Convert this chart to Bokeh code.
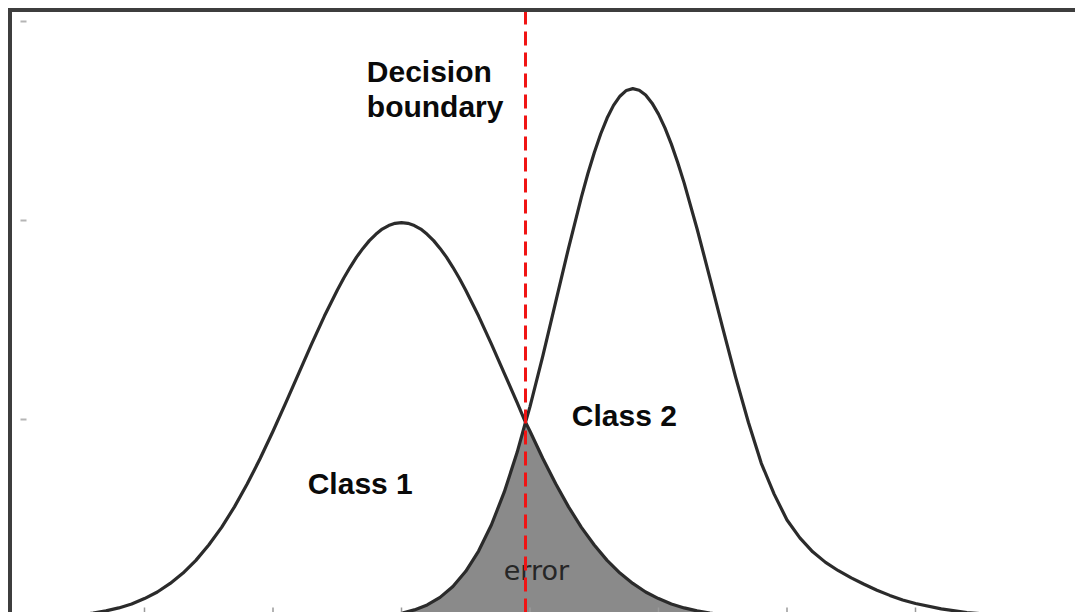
import numpy as np
import pandas as pd
from bokeh.plotting import figure
from bokeh.models import Range1d, ColumnDataSource
from bokeh.core.properties import value
from bokeh.embed import file_html
from bokeh.resources import INLINE

# ---- data -------------------------------------------------------------
# Class 1 density (sampled along x)
class1_x = [-3.2, -3.0, -2.8, -2.6, -2.5, -2.4, -2.3, -2.2, -2.1, -2.0,
            -1.9, -1.8, -1.7, -1.6, -1.5, -1.4, -1.3, -1.2, -1.1, -1.0,
            -0.9, -0.8, -0.7, -0.6, -0.5, -0.45, -0.4, -0.35, -0.3, -0.25,
            -0.2, -0.15, -0.1, -0.05, 0.0, 0.05, 0.1, 0.15, 0.2, 0.25,
            0.3, 0.35, 0.4, 0.45, 0.5, 0.6, 0.7, 0.8, 0.9, 0.965, 1.0,
            1.1, 1.2, 1.3, 1.4, 1.5, 1.6, 1.7, 1.8, 1.9, 2.0,
            2.1, 2.2, 2.3, 2.4, 2.5, 2.6, 2.8, 3.0, 3.2]
class1_y = [0.0001, 0.0002, 0.0006, 0.0013, 0.0018, 0.0027, 0.0038, 0.0053, 0.0073, 0.0100,
            0.0133, 0.0176, 0.0228, 0.0292, 0.0369, 0.0458, 0.0561, 0.0677, 0.0804, 0.0941,
            0.1085, 0.1232, 0.1379, 0.1520, 0.1650, 0.1710, 0.1765, 0.1816, 0.1860, 0.1899,
            0.1931, 0.1957, 0.1975, 0.1986, 0.1990, 0.1986, 0.1975, 0.1957, 0.1931, 0.1899,
            0.1860, 0.1816, 0.1765, 0.1710, 0.1650, 0.1520, 0.1379, 0.1232, 0.1085, 0.0986, 0.0941,
            0.0804, 0.0677, 0.0561, 0.0458, 0.0369, 0.0292, 0.0228, 0.0176, 0.0133, 0.0100,
            0.0073, 0.0053, 0.0038, 0.0027, 0.0018, 0.0013, 0.0006, 0.0002, 0.0001]

# Class 2 density (sampled along x)
class2_x = [-0.4, -0.2, 0.0, 0.1, 0.2, 0.3, 0.4, 0.5, 0.6, 0.7,
            0.8, 0.9, 0.965, 1.0, 1.1, 1.2, 1.3, 1.4, 1.45, 1.5,
            1.55, 1.6, 1.65, 1.7, 1.75, 1.8, 1.85, 1.9, 1.95, 2.0,
            2.05, 2.1, 2.15, 2.2, 2.3, 2.4, 2.5, 2.6,
            2.7, 2.8, 2.9, 3.0, 3.1, 3.2, 3.3, 3.4, 3.5, 3.6,
            3.7, 3.8, 3.9, 4.0, 4.2, 4.4, 4.6, 4.8, 5.0, 5.2, 5.4]
class2_y = [0.0003, 0.0009, 0.0026, 0.0043, 0.0068, 0.0106, 0.0161, 0.0237, 0.0339, 0.0471,
            0.0636, 0.0835, 0.0986, 0.1065, 0.1320, 0.1591, 0.1862, 0.2118, 0.2235, 0.2341,
            0.2435, 0.2515, 0.2579, 0.2625, 0.2654, 0.2663, 0.2655, 0.2631, 0.2590, 0.2535,
            0.2466, 0.2384, 0.2291, 0.2188, 0.1959, 0.1711, 0.1459, 0.1213,
            0.0985, 0.0780, 0.0625, 0.0495, 0.0405, 0.0335, 0.0282, 0.0240, 0.0204, 0.0172,
            0.0142, 0.0116, 0.0093, 0.0075, 0.0048, 0.0030, 0.0019, 0.0012, 0.0008, 0.0005, 0.0003]

decision_boundary = 0.965

x_ticks = [-2, -1, 0, 1, 2, 3, 4]
y_ticks = [0.1, 0.2, 0.3]

# ---- figure -----------------------------------------------------------
W, H = 1075, 612
x_start, x_end = -3.1206, 5.2451
y_start, y_end = 0.003, 0.3106

p = figure(width=W, height=H, output_backend="svg", toolbar_location=None,
           x_range=Range1d(x_start, x_end), y_range=Range1d(y_start, y_end),
           x_axis_location=None, y_axis_location=None, min_border=0)
p.grid.visible = False
p.outline_line_color = None
p.background_fill_color = "white"
p.border_fill_color = "white"

# pixel -> data helpers for frame decorations
sx = (x_end - x_start) / W
sy = (y_end - y_start) / H

c1 = ColumnDataSource(dict(x=class1_x, y=class1_y))
c2 = ColumnDataSource(dict(x=class2_x, y=class2_y))

# error region: class 2 mass left of the boundary, class 1 mass right of it
d1 = pd.DataFrame({"x": class1_x, "c1": class1_y})
d2 = pd.DataFrame({"x": class2_x, "c2": class2_y})
err = d1.merge(d2, on="x").sort_values("x")
err["y"] = np.where(err["x"] < decision_boundary, err["c2"], err["c1"])
err["base"] = 0.0
p.varea(x="x", y1="base", y2="y", source=ColumnDataSource(err),
        fill_color="#8a8a8a", fill_alpha=1.0)

curve_color = "#2b2b2b"
p.line("x", "y", source=c1, line_color=curve_color, line_width=3.2, line_join="round")
p.line("x", "y", source=c2, line_color=curve_color, line_width=3.2, line_join="round")

p.text(x=[0.795], y=[0.0241], text=["error"], text_font=value("DejaVu Sans"),
       text_font_size="27px", text_color="#262626", text_baseline="alphabetic")

# decision boundary
p.line(x=[decision_boundary, decision_boundary], y=[y_start, y_end - 11 * sy],
       line_color="#f01414", line_width=3, line_dash="14 7")

labels = ColumnDataSource(dict(
    x=[-0.27, -0.27, -0.73, 1.325],
    y=[0.2748, 0.2572, 0.0680, 0.1020],
    text=["Decision", "boundary", "Class 1", "Class 2"],
))
p.text("x", "y", text="text", source=labels, text_font=value("Liberation Sans"),
       text_font_style="bold", text_font_size="30px", text_color="#0a0a0a",
       text_baseline="alphabetic")

# small tick marks
p.scatter(x=x_ticks, y=[y_start] * len(x_ticks), marker="dash", angle=np.pi / 2,
          size=10, line_color="#9a9a9a", line_width=1.5)
p.scatter(x=[x_start + 23 * sx] * len(y_ticks), y=y_ticks, marker="dash",
          size=6, line_color="#b5b5b5", line_width=2)

# frame border (left and top)
xb = x_start + 9.5 * sx
yb = y_end - 9.5 * sy
p.line(x=[xb, xb, x_end], y=[y_start, yb, yb], line_color="#3e3e3e",
       line_width=4, line_join="miter")

open("out.html", "w").write(file_html(p, INLINE))
